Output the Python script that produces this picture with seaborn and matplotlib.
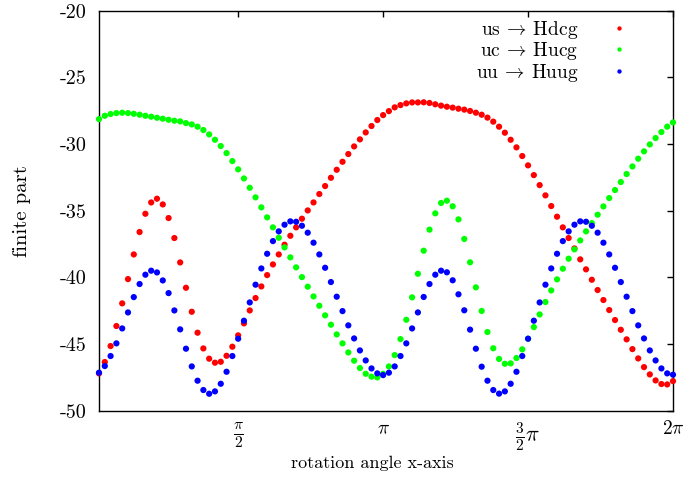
import numpy as np
import pandas as pd
import matplotlib
matplotlib.use("Agg")
import matplotlib.pyplot as plt
import seaborn as sns

# Sampling of the rotation angle: 100 steps over one full turn
n_steps = 100
angle = 2 * np.pi * np.arange(1, n_steps + 1) / n_steps

series_names = [r"us $\!\rightarrow\!$ Hdcg", r"uc $\!\rightarrow\!$ Hucg", r"uu $\!\rightarrow\!$ Huug"]
series_colors = ["#ff0000", "#00ff00", "#0000ff"]

us_hdcg = [
    -47.2, -46.35, -45.15, -43.65, -41.95, -40.13, -38.28, -36.6, -35.23, -34.38,
    -34.1, -34.53, -35.55, -37.05, -38.88, -40.78, -42.58, -44.15, -45.33, -46.1,
    -46.4, -46.33, -45.88, -45.2, -44.35, -43.45, -42.48, -41.55, -40.68, -39.83,
    -39.03, -38.28, -37.55, -36.88, -36.25, -35.6, -34.98, -34.38, -33.75, -33.15,
    -32.53, -31.93, -31.33, -30.75, -30.18, -29.65, -29.13, -28.65, -28.2, -27.83,
    -27.53, -27.25, -27.08, -26.95, -26.88, -26.88, -26.87, -26.92, -27.02, -27.12,
    -27.2, -27.27, -27.35, -27.42, -27.52, -27.65, -27.8, -28.02, -28.32, -28.7,
    -29.15, -29.68, -30.25, -30.9, -31.6, -32.33, -33.08, -33.85, -34.65, -35.45,
    -36.25, -37.05, -37.83, -38.65, -39.4, -40.18, -40.95, -41.7, -42.45, -43.2,
    -43.93, -44.65, -45.38, -46.08, -46.73, -47.28, -47.73, -48.0, -48.03, -47.78,
]

uc_hucg = [
    -28.13, -27.88, -27.75, -27.68, -27.65, -27.68, -27.73, -27.8, -27.88, -27.95,
    -28.03, -28.1, -28.18, -28.25, -28.3, -28.43, -28.53, -28.7, -28.95, -29.28,
    -29.68, -30.15, -30.68, -31.28, -31.9, -32.58, -33.28, -34.0, -34.75, -35.5,
    -36.25, -37.03, -37.75, -38.5, -39.25, -39.98, -40.7, -41.43, -42.13, -42.85,
    -43.55, -44.28, -44.95, -45.63, -46.25, -46.8, -47.23, -47.45, -47.5, -47.23,
    -46.68, -45.83, -44.63, -43.18, -41.5, -39.73, -38.0, -36.42, -35.2, -34.42,
    -34.25, -34.67, -35.65, -37.12, -38.87, -40.75, -42.52, -44.1, -45.32, -46.12,
    -46.48, -46.45, -46.05, -45.4, -44.6, -43.73, -42.78, -41.85, -40.98, -40.15,
    -39.35, -38.6, -37.9, -37.23, -36.55, -35.93, -35.3, -34.68, -34.05, -33.45,
    -32.85, -32.25, -31.68, -31.1, -30.55, -30.03, -29.55, -29.1, -28.7, -28.38,
]

uu_huug = [
    -47.15, -46.65, -45.9, -44.95, -43.83, -42.63, -41.48, -40.5, -39.8, -39.5,
    -39.63, -40.23, -41.18, -42.48, -43.9, -45.35, -46.68, -47.75, -48.45, -48.73,
    -48.55, -47.98, -47.08, -45.9, -44.6, -43.25, -41.88, -40.55, -39.33, -38.23,
    -37.28, -36.55, -36.05, -35.8, -35.83, -36.13, -36.65, -37.4, -38.28, -39.28,
    -40.35, -41.45, -42.53, -43.6, -44.58, -45.48, -46.23, -46.83, -47.2, -47.33,
    -47.15, -46.68, -45.9, -44.95, -43.83, -42.63, -41.47, -40.5, -39.8, -39.5,
    -39.62, -40.22, -41.27, -42.47, -43.92, -45.35, -46.7, -47.75, -48.45, -48.72,
    -48.55, -47.98, -47.08, -45.9, -44.6, -43.25, -41.88, -40.55, -39.33, -38.23,
    -37.28, -36.55, -36.05, -35.8, -35.83, -36.13, -36.65, -37.4, -38.28, -39.28,
    -40.35, -41.45, -42.53, -43.6, -44.58, -45.48, -46.23, -46.83, -47.2, -47.3,
]

x_tick_values = [np.pi / 2, np.pi, 3 * np.pi / 2, 2 * np.pi]
x_tick_labels = [r"$\frac{\pi}{2}$", r"$\pi$", r"$\frac{3}{2}\pi$", r"$2\pi$"]
y_ticks = [-50, -45, -40, -35, -30, -25, -20]

sns.set_style("white")
plt.rcParams.update({
    "font.family": ["cmr10", "DejaVu Serif"],
    "mathtext.fontset": "cm",
    "axes.unicode_minus": False,
    "axes.formatter.use_mathtext": True,
    "axes.edgecolor": "black",
    "axes.linewidth": 1.0,
    "text.color": "black",
    "axes.labelcolor": "black",
    "xtick.color": "black",
    "ytick.color": "black",
    "font.size": 13,
})

df = pd.concat([
    pd.DataFrame({"angle": angle, "value": vals, "channel": name})
    for name, vals in zip(series_names, [us_hdcg, uc_hucg, uu_huug])
], ignore_index=True)

fig = plt.figure(figsize=(6.84, 4.79), dpi=100)
ax = fig.add_axes([99 / 684, 1 - 410.7 / 479, 574 / 684, 400 / 479])

sns.scatterplot(
    data=df, x="angle", y="value", hue="channel",
    hue_order=series_names, palette=dict(zip(series_names, series_colors)),
    s=20, linewidth=0, ax=ax, legend=True, clip_on=False, zorder=3,
)

ax.set_xlim(angle[0], 2 * np.pi)
ax.set_ylim(-50, -20)
ax.set_xticks(x_tick_values)
ax.set_xticklabels(x_tick_labels, fontsize=14)
for lbl in ax.get_xticklabels():
    if r"\frac" in lbl.get_text():
        lbl.set_fontsize(16)
ax.set_yticks(y_ticks)
ax.set_yticklabels([str(v) for v in y_ticks], fontsize=14.5)
ax.tick_params(direction="in", top=True, right=True, length=4.5, width=1.0)
ax.tick_params(axis="y", pad=9)
ax.tick_params(axis="x", pad=7)
for side in ["top", "right", "left", "bottom"]:
    ax.spines[side].set_visible(True)
    ax.spines[side].set_color("black")

ax.set_xlabel("rotation angle x-axis", fontsize=13)
ax.set_ylabel("finite part", fontsize=15)
ax.xaxis.set_label_coords(0.477, -0.112)
ax.yaxis.set_label_coords(-0.118, 0.5)

handles, labels = ax.get_legend_handles_labels()
ax.legend(
    handles, labels, loc="upper right", bbox_to_anchor=(0.9405, 0.98),
    frameon=False, markerfirst=False, borderpad=0, borderaxespad=0,
    handlelength=2.0, handletextpad=1.1, labelspacing=-0.03,
    markerscale=0.7, fontsize=14,
)

fig.savefig("out.png", dpi=100)
